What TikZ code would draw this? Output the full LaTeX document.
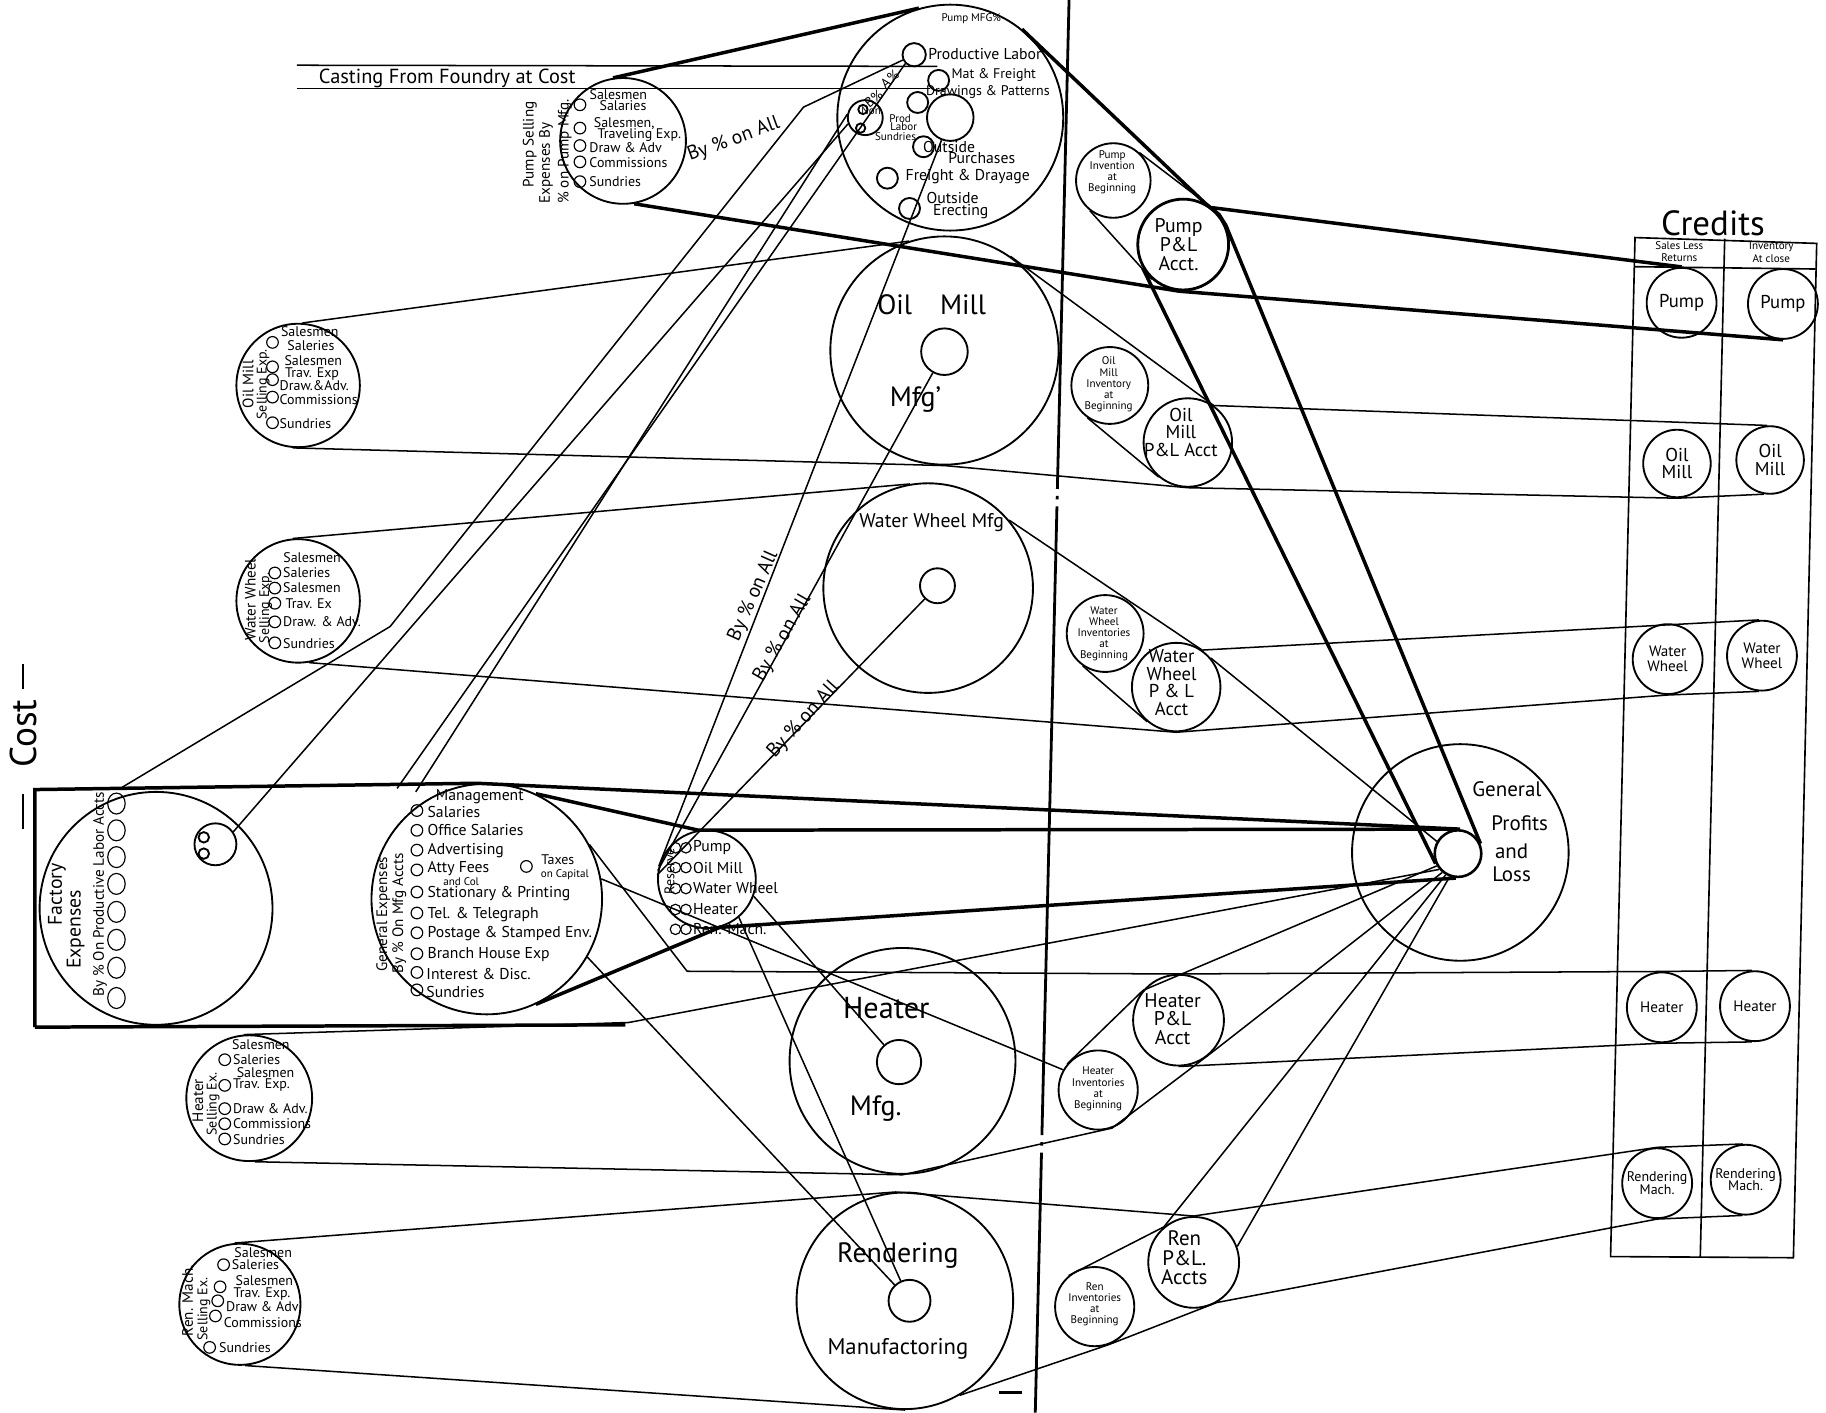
\documentclass[tikz,border=0pt]{standalone}
\usepackage{fontspec}
\usetikzlibrary{shapes.geometric}
\setmainfont{PT Sans}
\begin{document}
\begin{tikzpicture}[x=1pt,y=-1pt,
  ln/.style={line width=1.3pt},
  thk/.style={line width=3pt},
  circ/.style={circle,draw,line width=1.6pt,inner sep=0pt},
  mk/.style={circle,draw,line width=1pt,inner sep=0pt,minimum size=10pt},
  tx/.style={inner sep=0pt},
  ta/.style={tx,font=\fontsize{9.5}{9.5}\selectfont},
  tb/.style={tx,font=\fontsize{12}{11}\selectfont},
  tbb/.style={tx,font=\fontsize{13.5}{13}\selectfont},
  tc/.style={tx,font=\fontsize{13}{13}\selectfont},
  td/.style={tx,font=\fontsize{16}{15}\selectfont},
  te/.style={tx,font=\fontsize{17}{17}\selectfont},
  tf/.style={tx,font=\fontsize{24}{24}\selectfont},
]
\fill[white] (0,0) rectangle (1568,1213);
\useasboundingbox (0,0) rectangle (1568,1213);

% divider
\draw[line width=2.4pt,dash pattern=on 420pt off 6pt on 3pt off 6pt on 540pt off 6pt on 3pt off 6pt] (918,0) -- (889,1213);
\draw[line width=2.4pt] (858,1196) -- (878,1196);

% ---------- circles ----------
\node[circ,minimum size=194pt] (pmfg) at (816,101) {};
\node[circ,minimum size=40pt] (pmfgIn) at (816,101) {};
\node[circ,minimum size=20pt] (pl) at (785,47) {};
\node[circ,minimum size=18pt] (mf) at (806,69) {};
\node[circ,minimum size=18pt] (dp) at (788,88) {};
\node[circ,minimum size=18pt] (op) at (793,126) {};
\node[circ,minimum size=18pt] (fd) at (762,153) {};
\node[circ,minimum size=18pt] (oe) at (781,179) {};
\node[circ,minimum size=30pt] (bc) at (743,101) {};
\node[circ,minimum size=8pt] (bc1) at (741,94) {};
\node[circ,minimum size=8pt] (bc2) at (739,110) {};

\node[circ,minimum size=108pt] (psell) at (535,121) {};
\node[circ,minimum size=106pt] (osell) at (256,331) {};
\node[circ,minimum size=106pt] (wsell) at (256,516) {};
\node[circ,minimum size=108pt] (hsell) at (214,943) {};
\node[circ,minimum size=104pt] (rsell) at (206,1120) {};

\node[circ,minimum size=196pt] (omfg) at (811,301) {};
\node[circ,minimum size=40pt] (omfgIn) at (811,302) {};
\node[circ,minimum size=180pt] (wmfg) at (797,505) {};
\node[circ,minimum size=30pt] (wmfgIn) at (805,503) {};
\node[circ,minimum size=194pt] (hmfg) at (775,911) {};
\node[circ,minimum size=38pt] (hmfgIn) at (772,912) {};
\node[circ,minimum size=186pt] (rmfg) at (777,1117) {};
\node[circ,minimum size=36pt] (rmfgIn) at (781,1117) {};

\node[circ,minimum size=186pt] (gpl) at (1254,732) {};
\node[circ,minimum size=40pt,line width=2.2pt] (gplIn) at (1252,733) {};

\node[circ,minimum size=64pt] (pinv) at (956,155) {};
\node[circ,minimum size=78pt,line width=2.4pt] (ppl) at (1016,210) {};
\node[circ,minimum size=66pt] (oinv) at (953,331) {};
\node[circ,minimum size=76pt] (opl) at (1020,380) {};
\node[circ,minimum size=66pt] (winv) at (949,544) {};
\node[circ,minimum size=76pt] (wpl) at (1010,590) {};
\node[circ,minimum size=68pt] (hinv) at (943,936) {};
\node[circ,minimum size=78pt] (hpl) at (1012,876) {};
\node[circ,minimum size=68pt] (rinv) at (940,1122) {};
\node[circ,minimum size=78pt] (rpl) at (1025,1084) {};

\node[circ,minimum size=60pt] (cps) at (1444,260) {};
\node[circ,minimum size=60pt] (cpi) at (1531,261) {};
\node[circ,minimum size=58pt] (cos) at (1440,398) {};
\node[circ,minimum size=58pt] (coi) at (1520,395) {};
\node[circ,minimum size=60pt] (cws) at (1432,566) {};
\node[circ,minimum size=60pt] (cwi) at (1513,563) {};
\node[circ,minimum size=60pt] (chs) at (1427,865) {};
\node[circ,minimum size=60pt] (chi) at (1507,864) {};
\node[circ,minimum size=60pt] (crs) at (1423,1016) {};
\node[circ,minimum size=60pt] (cri) at (1499,1013) {};

\node[circ,minimum size=200pt] (fcirc) at (134,780) {};
\node[circ,minimum size=36pt] (fin) at (185,725) {};
\node[circ,minimum size=9pt] (fin1) at (175,719) {};
\node[circ,minimum size=9pt] (fin2) at (175,733) {};
\node[circ,minimum size=198pt] (gexp) at (418,772) {};
\node[circ,minimum size=84pt] (res) at (607,755) {};

% factory markers
\foreach \yy [count=\i] in {690,713,736,759,783,807,831,857}
  \node[draw,ellipse,line width=1pt,inner sep=0pt,minimum width=15pt,minimum height=18pt] (fm\i) at (100,\yy) {};

% ---------- credits box ----------
\coordinate (cbTL) at (1404,204);
\coordinate (cbTM) at (1481,205);
\coordinate (cbTR) at (1560,209);
\coordinate (cbBL) at (1383,1079);
\coordinate (cbBM) at (1460,1080);
\coordinate (cbBR) at (1540,1080);
\draw[line width=1.4pt] (cbTL) -- (cbTR) -- (cbBR) -- (cbBL) -- cycle;
\draw[line width=1.4pt] (cbTM) -- (cbBM);
\draw[line width=1.4pt] (1404,229) -- (1559,231);
\node[tx,font=\fontsize{30}{30}\selectfont] (credits) at (1471,192) {Credits};
\node[ta] (sl1) at (1442,211) {Sales Less};
\node[ta] (sl2) at (1442,221) {Returns};
\node[ta] (ic1) at (1521,212) {Inventory};
\node[ta] (ic2) at (1521,222) {At close};
\node[td] at (cps) {Pump};
\node[td] at (cpi) {Pump};
\node[td,align=center] at (cos) {Oil\\Mill};
\node[td,align=center] at (coi) {Oil\\Mill};
\node[tc,align=center] at (cws) {Water\\Wheel};
\node[tc,align=center] at (cwi) {Water\\Wheel};
\node[tc] at (chs) {Heater};
\node[tc] at (chi) {Heater};
\node[tb,align=center] at (crs) {Rendering\\Mach.};
\node[tb,align=center] at (cri) {Rendering\\Mach.};

% ---------- Cost ----------
\node[tx,font=\fontsize{32}{32}\selectfont,rotate=90] (cost) at (20,630) {Cost};
\draw[line width=1.8pt] (20,570) -- (20,592);
\draw[line width=1.8pt] (20,682) -- (20,712);

% ---------- Casting ----------
\coordinate (ca1) at (255,56);
\coordinate (ca2) at (805,57);
\coordinate (ca3) at (255,76);
\coordinate (ca4) at (799,76);
\draw[ln] (ca1) -- (ca2);
\draw[ln] (ca3) -- (ca4);
\node[tx,font=\fontsize{17.5}{17}\selectfont] (casting) at (384,67) {Casting From Foundry at Cost};

% ---------- Pump MFG labels ----------
\node[ta] at (834,16) {Pump MFG\%};
\node[tbb,anchor=west] at (797,46) {Productive Labor};
\node[tb,anchor=west] at (817,64) {Mat \& Freight};
\node[tb,anchor=west] at (795,79) {Drawings \& Patterns};
\node[ta] at (748,95) {Non};
\node[ta] at (773,102) {Prod};
\node[ta] at (776,109) {Labor};
\node[ta] at (769,117) {Sundries};
\node[tbb] at (815,126) {Outside};
\node[tbb] at (843,136) {Purchases};
\node[tbb] at (831,152) {Freight \& Drayage};
\node[tbb] at (818,170) {Outside};
\node[tbb] at (825,182) {Erecting};
\node[tb,rotate=40] at (764,68) {A\%};
\node[tb,rotate=40] at (750,85) {B\%};

% ---------- Pump selling ----------
\node[tc,rotate=90] at (455,124) {Pump Selling};
\node[tc,rotate=90] at (469,140) {Expenses By};
\node[tc,rotate=90] at (485,130) {\% on Pump Mfg.};
\foreach \yy in {90,110,125,139,156} \node[mk] at (498,\yy) {};
\node[tb] at (531,81) {Salesmen};
\node[tb] at (535,91) {Salaries};
\node[tb] at (536,106) {Salesmen,};
\node[tb] at (549,116) {Traveling Exp.};
\node[tb,anchor=west] at (506,127) {Draw \& Adv};
\node[tb,anchor=west] at (506,140) {Commissions};
\node[tb,anchor=west] at (506,156) {Sundries};
\node[te,rotate=20] (byall0) at (630,120) {By \% on All};

% ---------- Oil mill selling ----------
\node[tc,rotate=90] at (213,330) {Oil Mill};
\node[tb,rotate=90] at (226,330) {Selling Exp.};
\foreach \yy in {294,315,326,341,363} \node[mk] at (234,\yy) {};
\node[tb] at (266,285) {Salesmen};
\node[tb] at (267,297) {Saleries};
\node[tb] at (269,310) {Salesmen};
\node[tb] at (268,321) {Trav. Exp};
\node[tb,anchor=west] at (240,331) {Draw.\&Adv.};
\node[tb,anchor=west] at (240,343) {Commissions};
\node[tb,anchor=west] at (240,364) {Sundries};

% ---------- Water wheel selling ----------
\node[tc,rotate=90] at (215,515) {Water Wheel};
\node[tb,rotate=90] at (228,522) {Selling Exp.};
\foreach \yy in {492,505,518,534,552} \node[mk] at (236,\yy) {};
\node[tb] at (268,479) {Salesmen};
\node[tb,anchor=west] at (243,492) {Saleries};
\node[tb,anchor=west] at (243,505) {Salesmen};
\node[tb,anchor=west] at (245,518) {Trav. Ex};
\node[tb,anchor=west] at (243,534) {Draw. \& Adv.};
\node[tb,anchor=west] at (243,553) {Sundries};

% ---------- Heater selling ----------
\node[tc,rotate=90] at (170,945) {Heater};
\node[tb,rotate=90] at (183,948) {Selling Ex.};
\foreach \yy in {910,932,952,965,978} \node[mk] at (193,\yy) {};
\node[tb] at (224,897) {Salesmen};
\node[tb,anchor=west] at (200,910) {Saleries};
\node[tb] at (228,921) {Salesmen};
\node[tb,anchor=west] at (200,932) {Trav. Exp.};
\node[tb,anchor=west] at (200,952) {Draw \& Adv.};
\node[tb,anchor=west] at (200,965) {Commissions};
\node[tb,anchor=west] at (200,979) {Sundries};

% ---------- Ren selling ----------
\node[tc,rotate=90] at (161,1117) {Ren. Mach.};
\node[tb,rotate=90] at (175,1124) {Selling Ex.};
\foreach \xx/\yy in {192/1086,189/1105,187/1117,185/1130,180/1157} \node[mk] at (\xx,\yy) {};
\node[tb] at (226,1076) {Salesmen};
\node[tb,anchor=west] at (199,1086) {Saleries};
\node[tb] at (227,1100) {Salesmen};
\node[tb] at (225,1111) {Trav. Exp.};
\node[tb,anchor=west] at (194,1122) {Draw \& Adv};
\node[tb,anchor=west] at (192,1136) {Commissions};
\node[tb,anchor=west] at (188,1157) {Sundries};

% ---------- Mfg labels ----------
\node[tf] at (800,262) {Oil\quad Mill};
\node[tf] at (786,343) {Mfg'};
\node[te] at (800,449) {Water Wheel Mfg};
\node[tx,font=\fontsize{26}{26}\selectfont] at (761,866) {Heater};
\node[tf] at (752,952) {Mfg.};
\node[tf] at (771,1078) {Rendering};
\node[tx,font=\fontsize{19.5}{19}\selectfont] at (771,1158) {Manufactoring};
\node[tx,font=\fontsize{18}{18}\selectfont] at (1294,678) {General};
\node[tx,font=\fontsize{18}{18}\selectfont] at (1305,707) {Profits};
\node[tx,font=\fontsize{18}{18}\selectfont] at (1298,731) {and};
\node[tx,font=\fontsize{18}{18}\selectfont] at (1298,751) {Loss};

% ---------- P&L labels ----------
\node[td,align=center,font=\fontsize{17}{16}\selectfont] at (1012,210) {Pump\\P\&L\\Acct.};
\node[ta,align=center] at (955,148) {Pump\\Invention\\at\\Beginning};
\node[ta,align=center] at (952,330) {Oil\\Mill\\Inventory\\at\\Beginning};
\node[td,align=center] at (1014,371) {Oil\\Mill\\P\&L Acct};
\node[ta,align=center] at (948,544) {Water\\Wheel\\Inventories\\at\\Beginning};
\node[td,align=center] at (1006,586) {Water\\Wheel\\P \& L\\Acct};
\node[td,align=center,font=\fontsize{17}{16}\selectfont] at (1007,875) {Heater\\P\&L\\Acct};
\node[ta,align=center] at (943,935) {Heater\\Inventories\\at\\Beginning};
\node[td,align=center,font=\fontsize{18}{17}\selectfont] at (1017,1080) {Ren\\P\&L.\\Accts};
\node[ta,align=center] at (940,1120) {Ren\\Inventories\\at\\Beginning};

% ---------- Factory ----------
\node[tx,font=\fontsize{17}{17}\selectfont,rotate=90] at (49,768) {Factory};
\node[tx,font=\fontsize{17}{17}\selectfont,rotate=90] at (65,798) {Expenses};
\node[tc,rotate=90] at (86,768) {By \% On Productive Labor Accts};

% ---------- General expenses ----------
\node[tc,rotate=90] at (329,785) {General Expenses};
\node[tc,rotate=90] at (343,784) {By \% On Mfg Accts};
\foreach \yy in {696,713,730,747,766,784,801,819,835,850} \node[mk] at (358,\yy) {};
\node[mk] at (452,744) {};
\node[tbb] at (412,684) {Management};
\node[tbb,anchor=west] at (367,697) {Salaries};
\node[tbb,anchor=west] at (367,713) {Office Salaries};
\node[tbb,anchor=west] at (367,730) {Advertising};
\node[tbb,anchor=west] at (367,746) {Atty Fees};
\node[ta] at (396,757) {and Col};
\node[tb] at (479,738) {Taxes};
\node[ta] at (485,751) {on Capital};
\node[tbb,anchor=west] at (367,767) {Stationary \& Printing};
\node[tbb,anchor=west] at (367,785) {Tel. \& Telegraph};
\node[tbb,anchor=west] at (367,802) {Postage \& Stamped Env.};
\node[tbb,anchor=west] at (367,820) {Branch House Exp};
\node[tbb,anchor=west] at (366,836) {Interest \& Disc.};
\node[tbb,anchor=west] at (366,852) {Sundries};

% ---------- Reserve ----------
\node[tb,rotate=90] at (575,748) {Reserve};
\foreach \yy in {728,745,763,781,798} {\node[mk,minimum size=9pt] at (580,\yy) {};\node[mk,minimum size=9pt] at (589,\yy) {};}
\node[tbb,anchor=west] at (595,728) {Pump};
\node[tbb,anchor=west] at (595,745) {Oil Mill};
\node[tbb,anchor=west] at (595,763) {Water Wheel};
\node[tbb,anchor=west] at (595,781) {Heater};
\node[tbb,anchor=west] at (595,798) {Ren. Mach.};

% ---------- By % on All labels ----------
\node[te,rotate=66] at (647,512) {By \% on All};
\node[te,rotate=60] at (672,548) {By \% on All};
\node[te,rotate=48] at (690,618) {By \% on All};

% ---------- Belts ----------
% pump
\draw[thk] (psell.99) -- (pmfg.106);
\draw[thk] (pmfg.51) -- (ppl.62) -- (ppl.40) -- (ppl.24) -- (gplIn.24);
\draw[thk] (ppl.210) -- (gplIn.204);
\draw[ln] (pinv.47) -- (ppl.47);
\draw[ln] (pinv.232) -- (ppl.228);
\draw[thk] (ppl.52) -- (cps.north);
\draw[thk] (psell.-80) -- (ppl.-95) -- (cpi.-90);
% oil
\draw[ln] (osell.86) -- (omfg.108);
\draw[ln] (osell.-95) -- (omfg.-90) -- (opl.-90) -- (cos.-90) -- (coi.-100);
\draw[ln] (omfg.55) -- (opl.55) -- (coi.95);
\draw[ln] (oinv.235) -- (opl.230);
% water wheel
\draw[ln] (wsell.95) -- (wmfg.100);
\draw[ln] (wsell.-80) -- (wpl.-90) -- (cws.-90) -- (cwi.-95);
\draw[ln] (wmfg.40) -- (wpl.55) -- (cwi.95);
\draw[ln] (winv.235) -- (wpl.230);
\draw[ln] (wpl.40) -- (gplIn.150);
% heater
\coordinate (hk) at (590,834);
\draw[ln] (hsell.95) -- (540,878) -- (gplIn.220);
\draw[ln] (hsell.-85) -- (hmfg.-90) -- (hinv.-70) -- (hpl.-45) -- (gplIn.230);
\draw[ln] (gexp.28) -- (hk) -- (hpl.95) -- (chs.90) -- (chi.95);
\draw[ln] (hinv.140) -- (hpl.140) -- (gplIn.210);
\draw[ln] (hpl.-90) -- (chs.-90) -- (chi.-95);
% rendering
\draw[ln] (rsell.95) -- (rmfg.95) -- (rpl.90) -- (crs.90) -- (cri.95);
\draw[ln] (rsell.-85) -- (rmfg.-90);
\draw[ln] (rmfg.-60) -- (rinv.-70) -- (rpl.-60) -- (crs.-90) -- (cri.-95);
\draw[ln] (rinv.130) -- (rpl.130) -- (gplIn.240);
\draw[ln] (rpl.20) -- (gplIn.250);
% factory belt
\coordinate (fTL) at (30,678);
\coordinate (fBL) at (30,882);
\coordinate (fBR) at (537,880);
\draw[thk] (fBL) -- (fTL) -- (gexp.95) -- (gplIn.85);
\draw[thk] (fBL) -- (fBR);
\draw[thk] (gexp.65) -- (res.100) -- (gplIn.95);
\draw[thk] (gexp.-65) -- (res.-75) -- (gplIn.-95);

% ---------- web ----------
\coordinate (wk) at (335,538);
\coordinate (wa) at (690,92);
\draw[ln] (105,676) -- (wk) -- (wa) -- (pl.205);
\draw[ln] (341,677) -- (pl.225);
\draw[ln] (357,680) -- (bc.170);
\draw[ln] (fin.35) -- (bc.200);
\draw[ln] (res.165) -- (pmfgIn);
\draw[ln] (res.170) -- (omfgIn);
\draw[ln] (res.175) -- (wmfgIn);
\draw[ln] (res.-20) -- (hmfgIn);
\draw[ln] (res.-50) -- (rmfgIn);
\draw[ln] (gexp.10) -- (hinv.150);
\draw[ln] (gexp.-30) -- (rmfgIn);
\end{tikzpicture}
\end{document}
